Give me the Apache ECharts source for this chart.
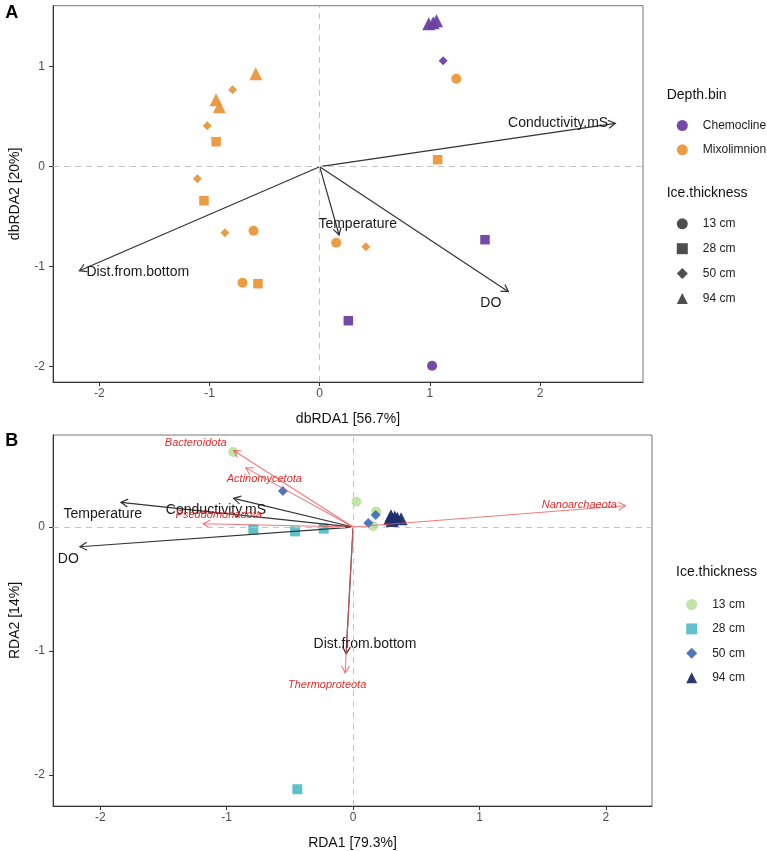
<!DOCTYPE html>
<html>
<head>
<meta charset="utf-8">
<script src="https://cdn.jsdelivr.net/npm/echarts@6/dist/echarts.min.js"></script>
<style>
  html, body { margin: 0; padding: 0; background: #fff; }
  #chart { width: 767px; height: 851px; }
</style>
</head>
<body>
<div id="chart"></div>
<script>
// ---- panel A: dbRDA site scores ----
var chemoX = [0.99, 1.03, 1.06, 1.12, 1.50, 0.26, 1.02];
var chemoY = [1.43, 1.44, 1.46, 1.06, -0.73, -1.54, -1.99];
var chemoIce = ['94 cm', '94 cm', '94 cm', '50 cm', '28 cm', '28 cm', '13 cm'];

var mixoX = [-0.58, -0.79, -0.94, -0.91, -1.02, -0.94, -1.11, -1.05, -0.86, -0.60, -0.70, -0.56, 0.15, 0.42, 1.24, 1.07];
var mixoY = [0.93, 0.77, 0.67, 0.60, 0.41, 0.25, -0.12, -0.34, -0.66, -0.64, -1.16, -1.17, -0.76, -0.80, 0.88, 0.07];
var mixoIce = ['94 cm', '50 cm', '94 cm', '94 cm', '50 cm', '28 cm', '50 cm', '28 cm', '50 cm', '13 cm', '13 cm', '28 cm', '13 cm', '50 cm', '13 cm', '28 cm'];

// env vectors, panel A
var envA = ['Conductivity.mS', 'Temperature', 'DO', 'Dist.from.bottom'];
var envAX = [2.683, 0.176, 1.713, -2.181];
var envAY = [0.434, -0.683, -1.25, -1.04];
var envALabX = [2.164, 0.345, 1.553, -1.651];
var envALabY = [0.434, -0.577, -1.367, -1.05];

// ---- panel B: RDA site scores by ice thickness ----
var b13X = [-0.948, 0.027, 0.183, 0.158];
var b13Y = [0.605, 0.204, 0.124, 0.008];
var b28X = [-0.789, -0.459, -0.232, -0.441];
var b28Y = [-0.021, -0.035, -0.013, -2.114];
var b50X = [-0.555, 0.179, 0.121];
var b50Y = [0.291, 0.098, 0.032];
var b94X = [0.30, 0.33, 0.35, 0.29, 0.38, 0.31];
var b94Y = [0.09, 0.08, 0.07, 0.066, 0.066, 0.053];

var envB = ['Temperature', 'Conductivity.mS', 'DO', 'Dist.from.bottom'];
var envBX = [-1.837, -0.945, -2.161, -0.055];
var envBY = [0.199, 0.231, -0.159, -1.021];
var envBLabX = [-1.98, -1.085, -2.253, 0.094];
var envBLabY = [0.106, 0.14, -0.258, -0.942];

var taxa = ['Bacteroidota', 'Actinomycetota', 'Pseudomonadota', 'Nanoarchaeota', 'Thermoproteota'];
var taxaX = [-0.945, -0.849, -1.186, 2.155, -0.063];
var taxaY = [0.617, 0.477, 0.026, 0.172, -1.175];
var taxaLabX = [-1.245, -0.702, -1.063, 1.79, -0.205];
var taxaLabY = [0.676, 0.39, 0.098, 0.177, -1.27];

var iceLevels = ['13 cm', '28 cm', '50 cm', '94 cm'];
var ticksAX = [-2, -1, 0, 1, 2];
var ticksAY = [-2, -1, 0, 1];
var ticksBX = [-2, -1, 0, 1, 2];
var ticksBY = [-2, -1, 0];

var FONT = '"Liberation Sans", Arial, sans-serif';
var shapeOf = { '13 cm': 'circle', '28 cm': 'rect', '50 cm': 'diamond', '94 cm': 'triangle' };
var sizeOf = { '13 cm': 10, '28 cm': 9.5, '50 cm': 9, '94 cm': 13 };

function pts(xs, ys, ice) {
  return xs.map(function (x, i) {
    return { value: [x, ys[i]], symbol: shapeOf[ice[i]], symbolSize: sizeOf[ice[i]] };
  });
}
function xy(xs, ys) {
  return xs.map(function (x, i) { return [x, ys[i]]; });
}

function arrowRender(color, width, opacity) {
  return function (params, api) {
    var o = api.coord([0, 0]);
    var p = api.coord([api.value(0), api.value(1)]);
    var a = Math.atan2(p[1] - o[1], p[0] - o[0]);
    var L = 8, h = Math.PI / 6;
    var head = [
      [p[0] - L * Math.cos(a - h), p[1] - L * Math.sin(a - h)],
      p,
      [p[0] - L * Math.cos(a + h), p[1] - L * Math.sin(a + h)]
    ];
    return {
      type: 'group',
      children: [
        { type: 'line', shape: { x1: o[0], y1: o[1], x2: p[0], y2: p[1] },
          style: { stroke: color, lineWidth: width, opacity: opacity } },
        { type: 'polyline', shape: { points: head },
          style: { stroke: color, fill: null, lineWidth: width, opacity: opacity } }
      ]
    };
  };
}

function labelRender(names, font, color) {
  return function (params, api) {
    var p = api.coord([api.value(0), api.value(1)]);
    return {
      type: 'text', x: p[0], y: p[1],
      style: { text: names[params.dataIndex], font: font, fill: color,
               align: 'center', verticalAlign: 'middle', textAlign: 'center', textVerticalAlign: 'middle' }
    };
  };
}

function zeroLines() {
  return {
    silent: true, symbol: ['none', 'none'], label: { show: false },
    lineStyle: { type: [6, 5], color: '#c4c4c4', width: 1 },
    data: [{ xAxis: 0 }, { yAxis: 0 }]
  };
}

function xAx(grid, min, max, name, ticks) {
  return {
    type: 'value', gridIndex: grid, min: min, max: max,
    name: name, nameLocation: 'middle', nameGap: 30,
    nameTextStyle: { fontSize: 14, color: '#111', fontFamily: FONT },
    axisLine: { show: true, onZero: false, lineStyle: { color: '#333', width: 1 } },
    axisTick: { show: true, length: 4, lineStyle: { color: '#333' }, customValues: ticks },
    axisLabel: { customValues: ticks, margin: 6, fontSize: 12, color: '#4d4d4d', fontFamily: FONT },
    splitLine: { show: false }
  };
}
function yAx(grid, min, max, name, ticks) {
  return {
    type: 'value', gridIndex: grid, min: min, max: max,
    name: name, nameLocation: 'middle', nameGap: 31,
    nameTextStyle: { fontSize: 14, color: '#111', fontFamily: FONT },
    axisLine: { show: true, onZero: false, lineStyle: { color: '#333', width: 1 } },
    axisTick: { show: true, length: 4, lineStyle: { color: '#333' }, customValues: ticks },
    axisLabel: { customValues: ticks, margin: 8, fontSize: 12, color: '#4d4d4d', fontFamily: FONT },
    splitLine: { show: false }
  };
}

var iceColB = { '13 cm': '#b9e09c', '28 cm': '#58bec8', '50 cm': '#4272b8', '94 cm': '#1f2d6c' };
var bX = [b13X, b28X, b50X, b94X];
var bY = [b13Y, b28Y, b50Y, b94Y];

var series = [
  { name: 'Chemocline', type: 'scatter', xAxisIndex: 0, yAxisIndex: 0, z: 2,
    itemStyle: { color: '#6b40a1', opacity: 0.95 }, data: pts(chemoX, chemoY, chemoIce),
    markLine: zeroLines() },
  { name: 'Mixolimnion', type: 'scatter', xAxisIndex: 0, yAxisIndex: 0, z: 2,
    itemStyle: { color: '#ea973b', opacity: 0.95 }, data: pts(mixoX, mixoY, mixoIce) },
  { type: 'custom', xAxisIndex: 0, yAxisIndex: 0, z: 3, silent: true,
    renderItem: arrowRender('#333', 1.2, 1), data: xy(envAX, envAY) },
  { type: 'custom', xAxisIndex: 0, yAxisIndex: 0, z: 4, silent: true,
    renderItem: labelRender(envA, '14px ' + FONT, '#1a1a1a'), data: xy(envALabX, envALabY) }
];
iceLevels.forEach(function (lv) {
  series.push({ name: 'A' + lv, type: 'scatter', xAxisIndex: 0, yAxisIndex: 0,
    itemStyle: { color: '#222' }, data: [] });
});
iceLevels.forEach(function (lv, k) {
  var s = { name: lv, type: 'scatter', xAxisIndex: 1, yAxisIndex: 1, z: 2,
    symbol: shapeOf[lv], symbolSize: lv === '94 cm' ? 13 : 10,
    itemStyle: { color: iceColB[lv], opacity: lv === '13 cm' ? 0.9 : 0.95 },
    data: xy(bX[k], bY[k]) };
  if (k === 0) s.markLine = zeroLines();
  series.push(s);
});
series.push(
  { type: 'custom', xAxisIndex: 1, yAxisIndex: 1, z: 3, silent: true,
    renderItem: arrowRender('#333', 1.2, 1), data: xy(envBX, envBY) },
  { type: 'custom', xAxisIndex: 1, yAxisIndex: 1, z: 3, silent: true,
    renderItem: arrowRender('#f05a5a', 1.1, 0.8), data: xy(taxaX, taxaY) },
  { type: 'custom', xAxisIndex: 1, yAxisIndex: 1, z: 4, silent: true,
    renderItem: labelRender(envB, '14px ' + FONT, '#1a1a1a'), data: xy(envBLabX, envBLabY) },
  { type: 'custom', xAxisIndex: 1, yAxisIndex: 1, z: 4, silent: true,
    renderItem: labelRender(taxa, 'italic 11px ' + FONT, '#d8302f'), data: xy(taxaLabX, taxaLabY) }
);

var legendText = { fontSize: 12, lineHeight: 11, color: '#222', fontFamily: FONT, padding: [0, 0, 0, 10] };

var option = {
  animation: false,
  backgroundColor: '#fff',
  textStyle: { fontFamily: FONT },
  grid: [
    { left: 45, top: 5.7, width: 598, height: 376.3, show: true, borderColor: '#777', borderWidth: 1 },
    { left: 44.5, top: 435, width: 607.5, height: 376, show: true, borderColor: '#777', borderWidth: 1 }
  ],
  xAxis: [
    xAx(0, -2.42, 2.934, 'dbRDA1 [56.7%]', ticksAX),
    xAx(1, -2.374, 2.365, 'RDA1 [79.3%]', ticksBX)
  ],
  yAxis: [
    yAx(0, -2.153, 1.61, 'dbRDA2 [20%]', ticksAY),
    yAx(1, -2.249, 0.742, 'RDA2 [14%]', ticksBY)
  ],
  legend: [
    { orient: 'vertical', left: 671.8, top: 114.5, itemWidth: 11, itemHeight: 11, itemGap: 12.3,
      selectedMode: false, textStyle: legendText,
      data: [{ name: 'Chemocline', icon: 'circle' }, { name: 'Mixolimnion', icon: 'circle' }] },
    { orient: 'vertical', left: 671.8, top: 212.8, itemWidth: 11, itemHeight: 11, itemGap: 12.9,
      selectedMode: false, textStyle: legendText,
      formatter: function (n) { return n.slice(1); },
      data: iceLevels.map(function (lv) { return { name: 'A' + lv, icon: shapeOf[lv] }; }) },
    { orient: 'vertical', left: 681.2, top: 593.5, itemWidth: 11, itemHeight: 11, itemGap: 12.4,
      selectedMode: false, textStyle: legendText,
      data: iceLevels.map(function (lv) { return { name: lv, icon: shapeOf[lv] }; }) }
  ],
  graphic: [
    { type: 'text', x: 11.7, y: 13.3, style: { text: 'A', font: 'bold 18px ' + FONT, fill: '#000', align: 'center', verticalAlign: 'middle' } },
    { type: 'text', x: 11.7, y: 441, style: { text: 'B', font: 'bold 18px ' + FONT, fill: '#000', align: 'center', verticalAlign: 'middle' } },
    { type: 'text', x: 666.7, y: 95, style: { text: 'Depth.bin', font: '14px ' + FONT, fill: '#111', align: 'left', verticalAlign: 'middle' } },
    { type: 'text', x: 666.7, y: 193.3, style: { text: 'Ice.thickness', font: '14px ' + FONT, fill: '#111', align: 'left', verticalAlign: 'middle' } },
    { type: 'text', x: 676, y: 572.3, style: { text: 'Ice.thickness', font: '14px ' + FONT, fill: '#111', align: 'left', verticalAlign: 'middle' } }
  ],
  series: series
};

var myChart = echarts.init(document.getElementById('chart'));
myChart.setOption(option);
</script>
</body>
</html>
